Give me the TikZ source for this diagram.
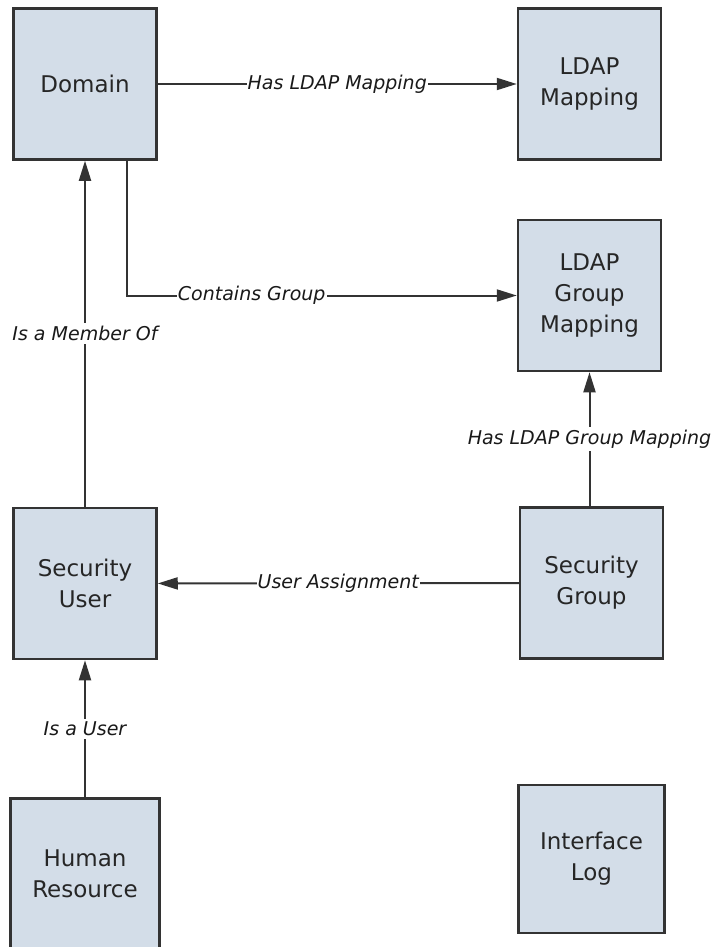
\documentclass[tikz,border=0pt]{standalone}
\usepackage{fontspec}
\setmainfont{DejaVu Sans}
\usetikzlibrary{arrows.meta, positioning}
\definecolor{boxfill}{HTML}{D3DDE8}
\definecolor{edgegray}{HTML}{333333}

\begin{document}
\begin{tikzpicture}[
        x=1pt, y=1pt,
        node distance=124pt and 359pt,
        entity/.style={rectangle, draw=edgegray, fill=boxfill, line width=2.5pt, minimum width=143pt, minimum height=151pt, align=center, inner sep=0pt, text=black!85, font=\fontsize{23}{31}\selectfont},
        rel/.style={fill=white, inner xsep=1pt, inner ysep=3pt, text=black!90, font=\fontsize{19}{22}\selectfont\itshape},
        arrow/.style={-{Triangle[length=20pt, width=12pt]}, line width=2pt, draw=edgegray}
    ]
    \useasboundingbox (0,0) rectangle (715,-947);

    \node (domain) [entity] at (85,-84) {Domain};
    \node (ldapmap) [entity, right=of domain] {LDAP\\Mapping};
    \node (ldapgroup) [entity, below=58pt of ldapmap] {LDAP\\Group\\Mapping};
    \node (secgroup) [entity, below=134pt of ldapgroup, xshift=2pt] {Security\\Group};
    \node (secuser) [entity, below=346pt of domain] {Security\\User};
    \node (human) [entity, below=137pt of secuser, minimum width=149pt] {Human\\Resource};
    \node (iflog) [entity, below=of secgroup, minimum width=146pt, minimum height=148pt] {Interface\\Log};

    \draw [arrow] (domain) -- node [rel] {Has LDAP Mapping} (ldapmap);
    \draw [arrow] ([xshift=42pt]domain.south) |- node [rel, pos=0.66] {Contains Group} (ldapgroup);
    \draw [arrow] (secuser) -- node [rel] {Is a Member Of} (domain);
    \draw [arrow] (secgroup.north -| ldapgroup) -- node [rel] {Has LDAP Group Mapping} (ldapgroup);
    \draw [arrow] (secgroup) -- node [rel] {User Assignment} (secuser);
    \draw [arrow] (human) -- node [rel] {Is a User} (secuser);

\end{tikzpicture}
\end{document}
